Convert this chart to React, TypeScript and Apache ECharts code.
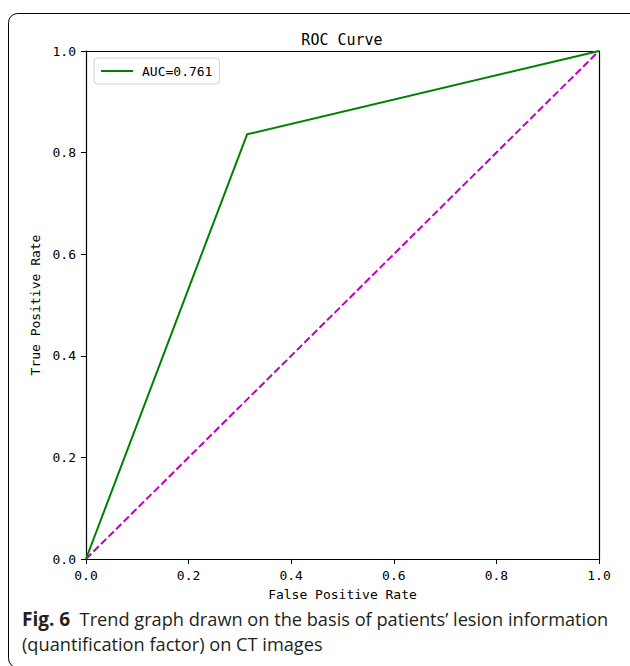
import React, { useEffect, useRef } from "react";
import * as echarts from "echarts";

const rocFpr = [0, 0.314, 1];
const rocTpr = [0, 0.836, 1];
const diagX = [0, 1];
const diagY = [0, 1];
const rocLabel = "AUC=0.761";
const xTicks = [0, 0.2, 0.4, 0.6, 0.8, 1.0];
const yTicks = [0, 0.2, 0.4, 0.6, 0.8, 1.0];
const titleText = "ROC Curve";
const xName = "False Positive Rate";
const yName = "True Positive Rate";
const captionBold = "Fig. 6";
const captionLine1 = "Trend graph drawn on the basis of patients\u2019 lesion information";
const captionLine2 = "(quantification factor) on CT images";

const MONO = "'DejaVu Sans Mono', monospace";

export default function App() {
  const ref = useRef<HTMLDivElement>(null);
  useEffect(() => {
    document.body.style.margin = "0";
    const chart = echarts.init(ref.current!, null, { renderer: "svg" });
    const fmt = (v: number) => v.toFixed(1);
    const baseAxis = {
      type: "value" as const,
      min: 0,
      max: 1,
      interval: 0.2,
      splitLine: { show: false },
      axisLine: { show: true, onZero: false, lineStyle: { color: "#000", width: 1.2 } },
    };
    chart.setOption({
      animation: false,
      backgroundColor: "#fff",
      title: {
        text: titleText,
        left: 337,
        textAlign: "center",
        top: 27,
        textStyle: { fontFamily: MONO, fontSize: 15, fontWeight: "normal", color: "#000" },
      },
      legend: {
        left: 94,
        top: 58,
        orient: "vertical",
        padding: [6, 7, 6, 7],
        borderColor: "#d0d0d0",
        borderWidth: 1,
        borderRadius: 3,
        itemWidth: 32,
        itemHeight: 2,
        itemGap: 8,
        data: [{ name: rocLabel, icon: "rect" }],
        textStyle: { fontFamily: MONO, fontSize: 13, color: "#000", padding: [0, 0, 0, 4], lineHeight: 14 },
      },
      grid: { left: 86, right: 31, top: 51, bottom: 107, containLabel: false },
      xAxis: [
        {
          ...baseAxis,
          position: "bottom",
          name: xName,
          nameLocation: "middle",
          nameGap: 29,
          nameTextStyle: { fontFamily: MONO, fontSize: 13, color: "#000" },
          axisTick: { show: true, length: 5, inside: false, lineStyle: { color: "#000" } },
          axisLabel: {
            margin: 10,
            fontFamily: MONO,
            fontSize: 13,
            color: "#000",
            formatter: (v: number) => (xTicks.some((t) => Math.abs(t - v) < 1e-9) ? fmt(v) : ""),
          },
        },
        {
          ...baseAxis,
          position: "top",
          axisTick: { show: false },
          axisLabel: { show: false },
        },
      ],
      yAxis: [
        {
          ...baseAxis,
          position: "left",
          name: yName,
          nameLocation: "middle",
          nameRotate: 90,
          nameGap: 37,
          nameTextStyle: { fontFamily: MONO, fontSize: 13, color: "#000" },
          axisTick: { show: true, length: 5, inside: false, lineStyle: { color: "#000" } },
          axisLabel: {
            margin: 10,
            fontFamily: MONO,
            fontSize: 13,
            color: "#000",
            formatter: (v: number) => (yTicks.some((t) => Math.abs(t - v) < 1e-9) ? fmt(v) : ""),
          },
        },
        {
          ...baseAxis,
          position: "right",
          axisTick: { show: false },
          axisLabel: { show: false },
        },
      ],
      series: [
        {
          name: rocLabel,
          type: "line",
          symbol: "none",
          data: rocFpr.map((x, i) => [x, rocTpr[i]]),
          lineStyle: { color: "#008000", width: 2 },
          itemStyle: { color: "#008000" },
          z: 3,
        },
        {
          name: "diag",
          type: "line",
          symbol: "none",
          data: diagX.map((x, i) => [x, diagY[i]]),
          lineStyle: { color: "#bf00bf", width: 2, type: [7.4, 3.2] },
          itemStyle: { color: "#bf00bf" },
          z: 2,
        },
      ],
      graphic: [
        {
          type: "rect",
          shape: { x: 8.5, y: 13.5, width: 640, height: 654, r: 9 },
          style: { fill: "none", stroke: "#000", lineWidth: 1 },
          silent: true,
        },
        {
          type: "text",
          left: 22,
          top: 609,
          style: {
            text: `{b|${captionBold}}  ${captionLine1}`,
            font: "18.2px 'Open Sans'",
            fill: "#231f20",
            rich: {
              b: { fontFamily: "'Open Sans'", fontWeight: "bold", fontSize: 19, fill: "#231f20" },
            },
          },
        },
        {
          type: "text",
          left: 22,
          top: 635,
          style: { text: captionLine2, font: "18.2px 'Open Sans'", fill: "#231f20" },
        },
      ],
    });
    return () => chart.dispose();
  }, []);
  return (
    <div
      ref={ref}
      style={{ position: "absolute", left: 0, top: 0, width: 630, height: 666 }}
    />
  );
}
